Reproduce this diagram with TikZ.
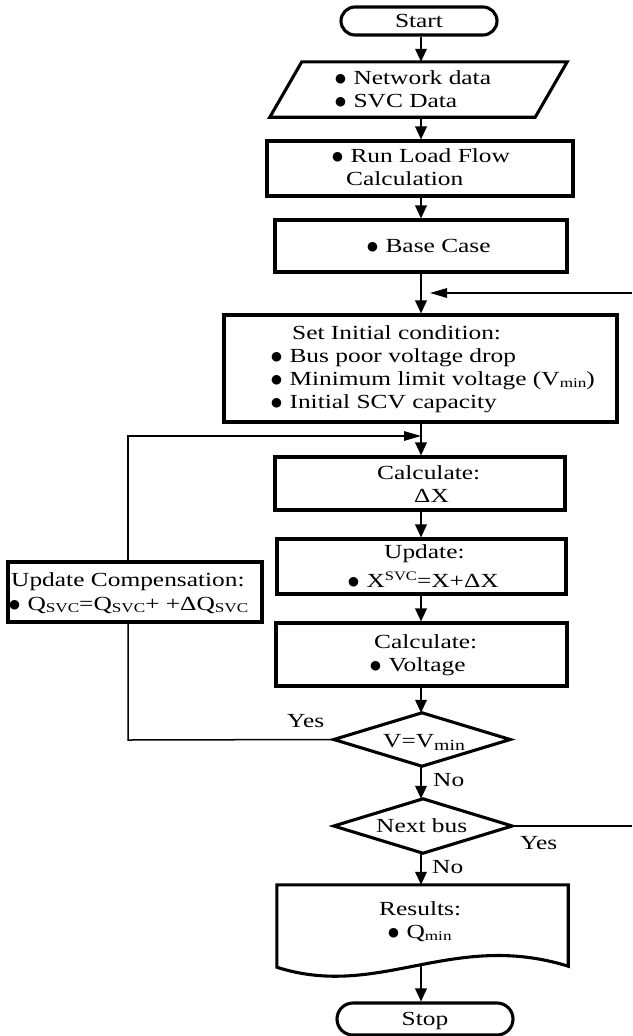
\documentclass[tikz,border=0pt]{standalone}
\usepackage{fontspec}
\setmainfont{Liberation Serif}[FakeStretch=1.27]
\newfontfamily\symfont{DejaVu Sans}
\usetikzlibrary{arrows.meta,calc}

% lowered / raised index text
\newcommand\subtxt[1]{\raisebox{-0.3ex}{\fontsize{13.5}{13.5}\selectfont #1}}
\newcommand\bigsubtxt[1]{\raisebox{-0.35ex}{\fontsize{15.5}{15.5}\selectfont #1}}
\newcommand\suptxt[1]{\raisebox{0.75ex}{\fontsize{13}{13}\selectfont #1}}
% list bullet
\newcommand\bul{\makebox[12pt][l]{\raisebox{2pt}{\fontsize{12.5}{12.5}\symfont ●}}\ }

\begin{document}
\begin{tikzpicture}[x=1pt,y=-1pt,
  boxnode/.style={draw, line width=3.1pt, inner sep=0pt, rectangle},
  terminal/.style={boxnode, text height=13.5pt, text depth=0pt,
    font=\fontsize{20}{22.5}\selectfont},
  frame/.style={draw=none, inner sep=0pt, rectangle},
  border/.style={line width=3.1pt, line join=miter},
  flow/.style={line width=2pt, -{Triangle[length=13pt,width=11.5pt]}},
  loopline/.style={line width=1.5pt},
  looparrow/.style={line width=1.5pt, -{Triangle[length=17pt,width=9.5pt]}},
  txt/.style={inner sep=0pt, anchor=base west, font=\fontsize{20}{22.5}\selectfont},
]
\useasboundingbox[fill=white] (0,0) rectangle (632,1036);

% main axis of the flow
\coordinate (axis) at (421,0);

% ---- shapes ----
\node[terminal, minimum width=156pt, minimum height=28pt, rounded corners=14pt]
  (start) at (419,21) {Start};

\node[frame, minimum width=297pt, minimum height=55pt] (data) at (418.5,89.5) {};
\draw[border] (data.south west) -- ($(data.north west)+(32,0)$)
  -- (data.north east) -- ($(data.south east)+(-32,0)$) -- cycle;

\node[boxnode, minimum width=306pt, minimum height=55pt] (run) at (420,168.5) {};
\node[boxnode, minimum width=292pt, minimum height=52pt] (base) at (421,246) {};
\node[boxnode, minimum width=393pt, minimum height=107pt] (init) at (420.5,368.5) {};
\node[boxnode, minimum width=290pt, minimum height=53pt] (dx) at (420,483.5) {};
\node[boxnode, minimum width=289pt, minimum height=55pt] (upd) at (421.5,566.5) {};
\node[boxnode, minimum width=291pt, minimum height=63pt] (volt) at (421.5,654.5) {};
\node[boxnode, minimum width=254pt, minimum height=60pt] (comp) at (135,592) {};

\node[frame, minimum width=176pt, minimum height=53pt] (vcheck) at (422,739.5) {};
\draw[border] (vcheck.west) -- (vcheck.north) -- (vcheck.east) -- (vcheck.south) -- cycle;

\node[frame, minimum width=178pt, minimum height=54pt] (next) at (423,826) {};
\draw[border] (next.west) -- (next.north) -- (next.east) -- (next.south) -- cycle;

\node[frame, minimum width=291pt, minimum height=82pt] (res) at (422.5,926) {};
\draw[border] (res.north west) -- (res.north east) -- ($(res.south east)+(0,-1)$)
  .. controls (452,930) and (379,1000) .. (res.south west) -- cycle;

\node[terminal, minimum width=176pt, minimum height=32pt, rounded corners=16pt]
  (stop) at (425,1019) {Stop};

% ---- texts ----
\node[txt] (net1) at (335,84) {\bul Network data};
\node[txt] (net2) at (335,107) {\bul SVC Data};
\node[txt] (run1) at (332,162.5) {\bul Run Load Flow};
\node[txt] (run2) at (346,185.5) {Calculation};
\node[txt] (base1) at (367,252) {\bul Base Case};
\node[txt] (init0) at (292,339) {Set Initial condition:};
\node[txt] (init1) at (271,362) {\bul Bus poor voltage drop};
\node[txt] (init2) at (271,385) {\bul Minimum limit voltage (V\subtxt{min})};
\node[txt] (init3) at (271,408) {\bul Initial SCV capacity};
\node[txt] (dx0) at (377,479) {Calculate:};
\node[txt] (dx1) at (414,502) {ΔX};
\node[txt] (upd0) at (384,558) {Update:};
\node[txt] (upd1) at (348,587) {\bul X\suptxt{SVC}=X+ΔX};
\node[txt] (volt0) at (374,648.5) {Calculate:};
\node[txt] (volt1) at (370,671.5) {\bul Voltage};
\node[txt] (comp0) at (11,586) {Update Compensation:};
\node[txt] (comp1) at (9,610) {\bul Q\subtxt{SVC}=Q\subtxt{SVC}+ +ΔQ\subtxt{SVC}};
\node[txt] (vtxt) at (383,747) {V=V\bigsubtxt{min}};
\node[txt] (nexttxt) at (376,832) {Next bus};
\node[txt] (res0) at (379,915) {Results:};
\node[txt] (res1) at (388,938) {\bul Q\subtxt{min}};

\node[txt] (yes1) at (287,727) {Yes};
\node[txt] (no1) at (433,786) {No};
\node[txt] (yes2) at (520,849) {Yes};
\node[txt] (no2) at (432,873) {No};

% ---- connectors ----
\draw[flow] (axis |- start.south) -- (axis |- data.north);
\draw[flow] (axis |- data.south) -- (axis |- run.north);
\draw[flow] (axis |- run.south) -- (axis |- base.north);
\draw[flow] (axis |- base.south) -- (axis |- init.north);
\draw[flow] (axis |- init.south) -- (axis |- dx.north);
\draw[flow] (axis |- dx.south) -- (axis |- upd.north);
\draw[flow] (axis |- upd.south) -- (axis |- volt.north);
\draw[flow] (axis |- volt.south) -- (axis |- vcheck.north);
\draw[flow] (axis |- vcheck.south) -- (axis |- next.north);
\draw[flow] (axis |- next.south) -- (axis |- res.north);
\coordinate (resout) at (421,964);
\draw[flow] (resout) -- (axis |- stop.north);

% return from the bus loop (right side)
\coordinate (rightin) at (632,293);
\coordinate (rightend) at (430,293);
\draw[looparrow] (rightin) -- (rightend);
\coordinate (rightout) at (632,826);
\draw[loopline] (next.east) -- (rightout);

% compensation loop (left side)
\coordinate (lbot) at (128,740);
\coordinate (ltop) at (128,436);
\draw[loopline] (vcheck.west) -- (lbot) -- (lbot |- comp.south);
\draw[looparrow] (ltop |- comp.north) -- (ltop) -- (axis |- ltop);
\end{tikzpicture}
\end{document}
